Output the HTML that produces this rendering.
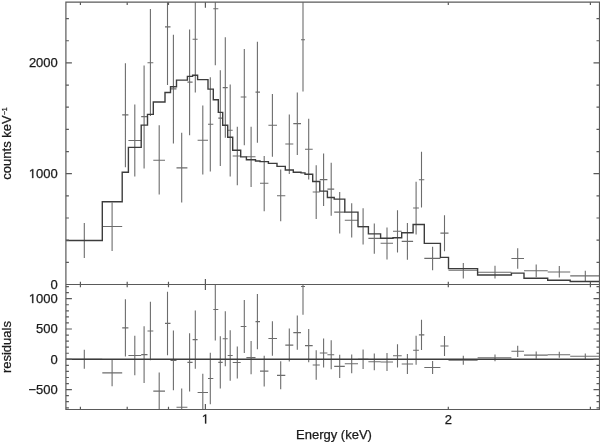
<!DOCTYPE html>
<html><head><meta charset="utf-8"><style>
html,body{margin:0;padding:0;background:#fff;}
body{width:600px;height:442px;overflow:hidden;}
svg{display:block;filter:grayscale(1);}
text{stroke:#1a1a1a;stroke-width:0.25px;font-family:"Liberation Sans",sans-serif;}
</style></head><body>
<svg width="600" height="442" viewBox="0 0 600 442">
<rect width="600" height="442" fill="#fff"/>
<defs><clipPath id="ct"><rect x="65.9" y="2.2" width="533.6" height="282.3"/></clipPath><clipPath id="cb"><rect x="65.9" y="284.5" width="533.6" height="125.0"/></clipPath></defs>
<path clip-path="url(#ct)" d="M66,240.5H102.3M84.3,223V257.9M102.3,226.5H122.2M112.1,202.4V250.9M122.2,114.9H128.4M125.4,63.2V167.2M128.4,140.5H141.2M134.8,104.5V176.6M141.2,116.6H147.5M144.1,65.5V168.4M147.5,62.7H153.3M150.4,9.1V116M153.3,160.2H165M159.2,125.3V194.4M165,26.9H170.5M167.5,2V85M170.5,88.9H176.5M173.4,34.8V143.5M176.5,167.9H187.4M181.7,132.8V202.5M187.4,82.1H192.6M189.6,29.4V135.3M192.6,39.3H197.6M195.3,2V92.5M197.6,140.3H208.0M202.8,105.4V174.5M208.0,124.3H213.3M210.3,77.2V171.5M213.3,8.7H218.3M215.3,2V65.2M218.3,118.1H222.7M220.3,70.2V165.9M222.7,87.6H227.7M225.3,37.3V137.8M227.7,130.3H232.7M230.2,84.6V176.5M232.7,156H240.7M237.3,126.8V185.2M240.7,97H246.4M244.3,49V145.3M246.4,156.7H255.5M251.1,126.8V187M255.5,92.1H260M257.4,41.8V142.8M260,183.3H268.4M264.2,156V211.3M268.4,125.3H277M272.4,94.1V156.7M277,195.7H285.3M280.7,169.6V221.3M285.3,144H293.3M289.3,114.4V174.1M293.3,123.6H301M297.3,92.6V155M301,39.8H305M303,2V91.6M305,149.2H312.7M308.7,118.7V179.6M312.7,192H319.8M316.2,165.2V219.1M319.8,179.6H327.4M323.6,153.5V206.1M327.4,189.1H334.2M331.2,162.7V215.7M334.2,212.1H344.8M339.7,192V233.5M344.8,220.3H358M351.7,203.2V237.5M358,226.6H368.4M363.1,208.2V244.5M368.4,238.4H380.6M374.3,223.6V253.7M380.6,243.2H393M387,227.5V259.5M393,231.3H401.7M397.5,210.3V252.6M401.7,241.4H413.1M407.4,223V259.8M413.1,208H418.9M416.1,181.8V234.6M418.9,179.8H424.3M421.5,151.7V207.5M424.3,258.4H440.4M432.6,246.8V270.3M440.4,233.1H448.5M444.5,215.3V251.3M448.5,270.3H477.6M463.3,263.1V278.4M477.6,272.3H511.4M495,265.8V278.4M511.4,258.5H524M517.7,248.3V268.7M524,270.7H547.7M536.2,264.5V277.2M547.7,272H570.2M559.3,266.1V277.5M570.2,275.9H600M585.3,270.8V281" stroke="#6c6c6c" stroke-width="1.1" fill="none"/>
<path clip-path="url(#ct)" d="M66,240.5H102.3V201.7H122.2V172.3H128.4V147.4H141.2V125.1H147.5V114.4H153.3V102H165V92.5H170.5V86.8H176.5V80.1H187.4V76.4H192.6V75.2H197.6V79.6H208.0V89.1H213.3V99.8H218.3V112.4H222.7V125.3H227.7V137.3H232.7V150.2H240.7V156.9H246.4V159.7H255.5V161H260V161.6H268.4V163.4H277V166.4H285.3V170H293.3V172.3H301V172.9H305V174.2H312.7V181.5H319.8V191.1H327.4V197.5H334.2V199.1H344.8V212.1H358V226.6H368.4V233.9H380.6V238.3H393V237.7H401.7V232.8H413.1V224.5H418.9V224.5H424.3V243.4H440.4V257.4H448.5V268.6H477.6V275H511.4V273.1H524V278.3H547.7V280.3H570.2V281.5H600" stroke="#3c3c3c" stroke-width="1.4" fill="none" stroke-linejoin="miter"/>
<path clip-path="url(#cb)" d="M66,359.30H102.3M84.3,349.78V368.82M102.3,372.86H122.2M112.1,359.52V386.21M122.2,327.91H128.4M125.4,299.30V356.51M128.4,355.53H141.2M134.8,335.78V375.27M141.2,354.65H147.5M144.1,326.32V382.98M147.5,331.02H153.3M150.4,301.87V360.18M153.3,391.13H165M159.2,372.43V409.84M165,323.42H170.5M167.5,291.64V355.20M170.5,360.45H176.5M173.4,330.59V390.31M176.5,407.32H187.4M181.7,388.40V426.24M187.4,362.42H192.6M189.6,333.32V391.51M192.6,339.67H197.6M195.3,310.57V368.76M197.6,392.50H208.0M202.8,373.79V411.20M208.0,378.55H213.3M210.3,352.74V404.37M213.3,309.47H218.3M215.3,278.57V340.38M218.3,362.42H222.7M220.3,336.27V388.56M222.7,338.68H227.7M225.3,311.22V366.14M227.7,355.47H232.7M230.2,330.20V380.74M232.7,362.47H240.7M237.3,346.50V378.44M240.7,326.54H246.4M244.3,300.12V352.96M246.4,357.66H255.5M251.1,341.09V374.23M255.5,321.62H260M257.4,293.89V349.35M260,371.17H268.4M264.2,355.85V386.48M268.4,338.46H277M272.4,321.29V355.64M277,375.33H285.3M280.7,361.32V389.33M285.3,345.08H293.3M289.3,328.62V361.54M293.3,332.66H301M297.3,315.49V349.84M301,286.50H305M303,258.17V314.83M305,345.63H312.7M308.7,329.00V362.25M312.7,365.04H319.8M316.2,350.22V379.86M319.8,353.01H327.4M323.6,338.52V367.50M327.4,354.71H334.2M331.2,340.16V369.25M334.2,366.41H344.8M339.7,354.71V378.11M344.8,363.78H358M351.7,354.38V373.19M358,359.30H368.4M363.1,349.51V369.09M368.4,361.76H380.6M374.3,353.39V370.13M380.6,361.98H393M387,353.06V370.89M393,355.80H401.7M397.5,344.15V367.45M401.7,364.00H413.1M407.4,353.94V374.07M413.1,350.28H418.9M416.1,335.73V364.82M418.9,334.85H424.3M421.5,319.70V350.00M424.3,367.50H440.4M432.6,361.00V374.01M440.4,346.01H448.5M444.5,336.06V355.96M448.5,360.23H477.6M463.3,355.80V364.66M477.6,357.82H511.4M495,354.49V361.16M511.4,351.31H524M517.7,345.74V356.89M524,355.14H547.7M536.2,351.59V358.70M547.7,354.76H570.2M559.3,351.75V357.77M570.2,356.24H600M585.3,353.45V359.03" stroke="#6c6c6c" stroke-width="1.1" fill="none"/>
<path d="M65.9,359.3H599.5" stroke="#3c3c3c" stroke-width="1.4" fill="none"/>
<path d="M65.9,2.2H599.5V409.5H65.9ZM65.9,284.5H599.5" stroke="#5a5a5a" stroke-width="1.2" fill="none"/>
<path d="M80.41,2.2v2.8M80.41,284.5v-2.8M80.41,284.5v2.8M80.41,409.5v-2.8M127.20,2.2v2.8M127.20,284.5v-2.8M127.20,284.5v2.8M127.20,409.5v-2.8M168.48,2.2v2.8M168.48,284.5v-2.8M168.48,284.5v2.8M168.48,409.5v-2.8M205.40,2.2v5.5M205.40,284.5v-5.5M205.40,284.5v5.5M205.40,409.5v-5.5M448.30,2.2v2.8M448.30,284.5v-2.8M448.30,284.5v2.8M448.30,409.5v-2.8M590.39,2.2v2.8M590.39,284.5v-2.8M590.39,284.5v2.8M590.39,409.5v-2.8M65.9,284.50h6M599.5,284.50h-6M65.9,262.34h3M599.5,262.34h-3M65.9,240.18h3M599.5,240.18h-3M65.9,218.02h3M599.5,218.02h-3M65.9,195.86h3M599.5,195.86h-3M65.9,173.70h6M599.5,173.70h-6M65.9,151.54h3M599.5,151.54h-3M65.9,129.38h3M599.5,129.38h-3M65.9,107.22h3M599.5,107.22h-3M65.9,85.06h3M599.5,85.06h-3M65.9,62.90h6M599.5,62.90h-6M65.9,40.74h3M599.5,40.74h-3M65.9,18.58h3M599.5,18.58h-3M65.9,407.78h3M599.5,407.78h-3M65.9,401.72h3M599.5,401.72h-3M65.9,395.66h3M599.5,395.66h-3M65.9,389.60h6M599.5,389.60h-6M65.9,383.54h3M599.5,383.54h-3M65.9,377.48h3M599.5,377.48h-3M65.9,371.42h3M599.5,371.42h-3M65.9,365.36h3M599.5,365.36h-3M65.9,359.30h6M599.5,359.30h-6M65.9,353.24h3M599.5,353.24h-3M65.9,347.18h3M599.5,347.18h-3M65.9,341.12h3M599.5,341.12h-3M65.9,335.06h3M599.5,335.06h-3M65.9,329.00h6M599.5,329.00h-6M65.9,322.94h3M599.5,322.94h-3M65.9,316.88h3M599.5,316.88h-3M65.9,310.82h3M599.5,310.82h-3M65.9,304.76h3M599.5,304.76h-3M65.9,298.70h6M599.5,298.70h-6M65.9,292.64h3M599.5,292.64h-3M65.9,286.58h3M599.5,286.58h-3" stroke="#5a5a5a" stroke-width="1.2" fill="none"/>
<text x="57.8" y="67.30000000000001" font-size="13" text-anchor="end" fill="#1a1a1a" >2000</text>
<path transform="translate(28.88,178.10) scale(0.00635,-0.00635)" d="M515 0V1237L197 1010V1180L530 1409H696V0Z" fill="#1a1a1a" stroke="#1a1a1a" stroke-width="39.4"/>
<text x="57.8" y="178.1" font-size="13" text-anchor="end" fill="#1a1a1a" >000</text>
<text x="57.8" y="288.9" font-size="13" text-anchor="end" fill="#1a1a1a" >0</text>
<path transform="translate(28.88,303.10) scale(0.00635,-0.00635)" d="M515 0V1237L197 1010V1180L530 1409H696V0Z" fill="#1a1a1a" stroke="#1a1a1a" stroke-width="39.4"/>
<text x="57.8" y="303.09999999999997" font-size="13" text-anchor="end" fill="#1a1a1a" >000</text>
<text x="57.8" y="333.4" font-size="13" text-anchor="end" fill="#1a1a1a" >500</text>
<text x="57.8" y="363.7" font-size="13" text-anchor="end" fill="#1a1a1a" >0</text>
<text x="57.8" y="394.0" font-size="13" text-anchor="end" fill="#1a1a1a" >&#8722;500</text>
<path transform="translate(201.79,423.50) scale(0.00635,-0.00635)" d="M515 0V1237L197 1010V1180L530 1409H696V0Z" fill="#1a1a1a" stroke="#1a1a1a" stroke-width="39.4"/>
<text x="448.3011035012664" y="423.5" font-size="13" text-anchor="middle" fill="#1a1a1a" >2</text>
<text x="334" y="438.7" font-size="13" text-anchor="middle" fill="#1a1a1a" >Energy (keV)</text>
<text transform="translate(10.8,143.5) rotate(-90)" font-size="13" text-anchor="middle" fill="#1a1a1a">counts keV<tspan font-size="7" dy="-3.7">&#8722;1</tspan></text>
<text transform="translate(11.1,347.1) rotate(-90)" font-size="13" text-anchor="middle" fill="#1a1a1a">residuals</text>
</svg>
</body></html>
